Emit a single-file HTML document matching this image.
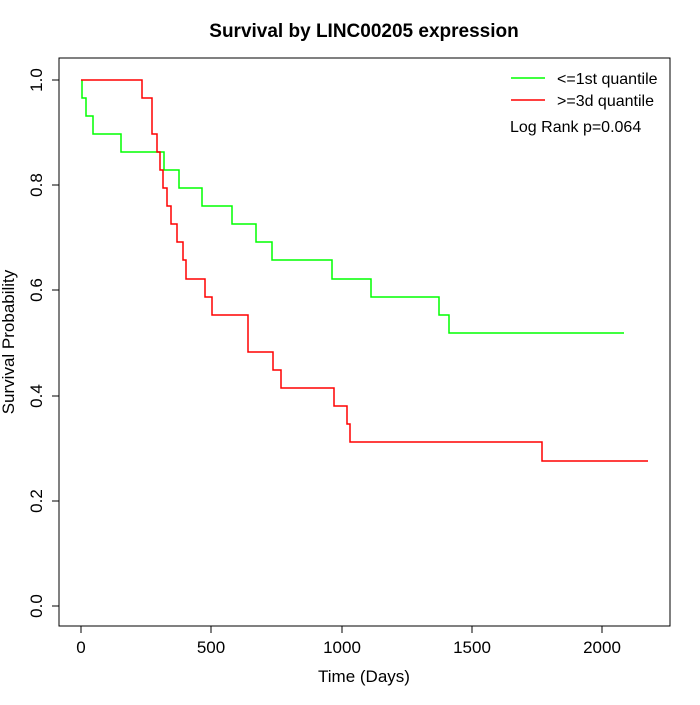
<!DOCTYPE html>
<html><head><style>body{margin:0;background:#fff}</style></head><body>
<svg width="700" height="700" xmlns="http://www.w3.org/2000/svg" font-family="Liberation Sans, sans-serif">
<rect x="59" y="58" width="611" height="568" fill="none" stroke="#000" stroke-width="1"/>
<text x="364" y="37" font-size="19" font-weight="bold" text-anchor="middle">Survival by LINC00205 expression</text>
<g stroke="#000">
<line x1="81" y1="626" x2="602" y2="626"/>
<line x1="81" y1="626" x2="81" y2="633"/><line x1="211" y1="626" x2="211" y2="633"/><line x1="342" y1="626" x2="342" y2="633"/><line x1="472" y1="626" x2="472" y2="633"/><line x1="602" y1="626" x2="602" y2="633"/>
<line x1="59" y1="80" x2="59" y2="606"/>
<line x1="52" y1="606" x2="59" y2="606"/><line x1="52" y1="501" x2="59" y2="501"/><line x1="52" y1="396" x2="59" y2="396"/><line x1="52" y1="290" x2="59" y2="290"/><line x1="52" y1="185" x2="59" y2="185"/><line x1="52" y1="80" x2="59" y2="80"/>
</g>
<g font-size="17" text-anchor="middle">
<text x="81" y="653">0</text><text x="211" y="653">500</text><text x="342" y="653">1000</text><text x="472" y="653">1500</text><text x="602" y="653">2000</text>
<g transform="rotate(-90)">
<text x="-606" y="42">0.0</text><text x="-501" y="42">0.2</text><text x="-396" y="42">0.4</text><text x="-290" y="42">0.6</text><text x="-185" y="42">0.8</text><text x="-80" y="42">1.0</text>
<text x="-342" y="14">Survival Probability</text>
</g>
<text x="364" y="682">Time (Days)</text>
</g>
<polyline fill="none" stroke="#00ff00" stroke-width="1.5" points="82,80 82,98 86,98 86,116 93,116 93,134 121,134 121,152 164,152 164,170 179,170 179,188 202,188 202,206 232,206 232,224 256,224 256,242 272,242 272,260 332,260 332,279 371,279 371,297 439,297 439,315 449,315 449,333 624,333"/>
<polyline fill="none" stroke="#ff0000" stroke-width="1.5" points="81,80 142,80 142,98 152,98 152,134 157,134 157,152 160,152 160,170 163,170 163,188 167,188 167,206 171,206 171,224 177,224 177,242 183,242 183,260 186,260 186,279 205,279 205,297 212,297 212,315 248,315 248,352 273,352 273,370 281,370 281,388 334,388 334,406 347,406 347,424 350,424 350,442 542,442 542,461 648,461"/>
<line x1="511" y1="78" x2="545" y2="78" stroke="#00ff00" stroke-width="1.5"/>
<line x1="511" y1="100" x2="545" y2="100" stroke="#ff0000" stroke-width="1.5"/>
<g font-size="16">
<text x="557" y="84">&lt;=1st quantile</text>
<text x="557" y="106">&gt;=3d quantile</text>
<text x="510" y="132">Log Rank p=0.064</text>
</g>
</svg>
</body></html>
